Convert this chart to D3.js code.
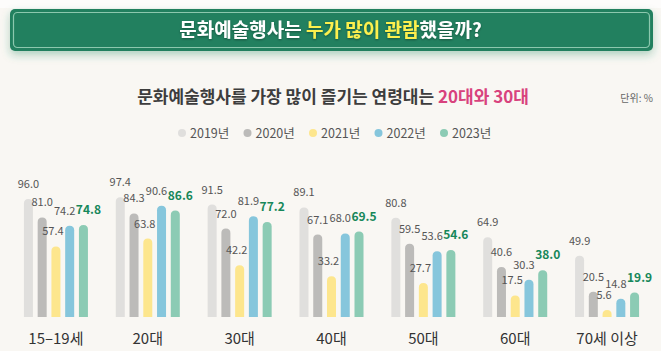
<!DOCTYPE html>
<html>
<head>
<meta charset="utf-8">
<script src="https://cdn.jsdelivr.net/npm/d3@7"></script>
<style>
  body { margin: 0; background: #f9f7f3; }
  svg { display: block; font-family: "Noto Sans CJK KR", "Noto Sans", sans-serif; }
</style>
</head>
<body>
<div id="chart"></div>
<script>
const categories = ['15~19세', '20대', '30대', '40대', '50대', '60대', '70세 이상'];
const years = ['2019년', '2020년', '2021년', '2022년', '2023년'];
const v2019 = [96.0, 97.4, 91.5, 89.1, 80.8, 64.9, 49.9];
const v2020 = [81.0, 84.3, 72.0, 67.1, 59.5, 40.6, 20.5];
const v2021 = [57.4, 63.8, 42.2, 33.2, 27.7, 17.5, 5.6];
const v2022 = [74.2, 90.6, 81.9, 68.0, 53.6, 30.3, 14.8];
const v2023 = [74.8, 86.6, 77.2, 69.5, 54.6, 38.0, 19.9];
const series = [v2019, v2020, v2021, v2022, v2023];

const colors = ['#e0dfdd', '#bcbbb9', '#fde68d', '#86c6dc', '#8ccbb4'];
const labelShift = [0, 0, -3, -5, 5];

const width = 661, height = 351;
const baseY = 317;

const svg = d3.select('#chart').append('svg')
  .attr('width', width)
  .attr('height', height);

const defs = svg.append('defs');
const glow = defs.append('filter').attr('id', 'glow')
  .attr('x', '-5%').attr('y', '-40%').attr('width', '110%').attr('height', '200%');
glow.append('feDropShadow')
  .attr('dx', 0).attr('dy', 4).attr('stdDeviation', 4)
  .attr('flood-color', '#2f8a63').attr('flood-opacity', 0.35);
const tshadow = defs.append('filter').attr('id', 'tshadow');
tshadow.append('feDropShadow')
  .attr('dx', 0).attr('dy', 1).attr('stdDeviation', 1)
  .attr('flood-color', '#000').attr('flood-opacity', 0.35);

// background
svg.append('rect').attr('width', width).attr('height', height).attr('fill', '#f9f7f3');
svg.append('rect').attr('width', width).attr('height', 8).attr('fill', '#fdfcfb');

// title banner
svg.append('rect')
  .attr('x', 10).attr('y', 9).attr('width', 643).attr('height', 42)
  .attr('rx', 5).attr('fill', '#20805f')
  .attr('filter', 'url(#glow)');
svg.append('rect')
  .attr('x', 13.5).attr('y', 12.5).attr('width', 636).attr('height', 35)
  .attr('rx', 4).attr('fill', 'none')
  .attr('stroke', '#8cc8ae').attr('stroke-width', 1.2);

const title = svg.append('text')
  .attr('x', width / 2).attr('y', 37)
  .attr('text-anchor', 'middle')
  .attr('font-size', 19).attr('font-weight', 'bold')
  .attr('fill', '#fff')
  .attr('filter', 'url(#tshadow)');
title.append('tspan').text('문화예술행사는 ');
title.append('tspan').attr('fill', '#fdf04e').text('누가 많이 관람');
title.append('tspan').text('했을까?');

// subtitle
const sub = svg.append('text')
  .attr('x', 333).attr('y', 103)
  .attr('text-anchor', 'middle')
  .attr('font-size', 17).attr('font-weight', 'bold')
  .attr('fill', '#3d3d3d');
sub.append('tspan').text('문화예술행사를 가장 많이 즐기는 연령대는 ');
sub.append('tspan').attr('fill', '#d8427d').text('20대와 30대');

svg.append('text')
  .attr('x', 653).attr('y', 102)
  .attr('text-anchor', 'end')
  .attr('font-size', 10).attr('fill', '#666')
  .text('단위: %');

// legend
const legend = svg.append('g')
  .selectAll('g')
  .data(years)
  .join('g')
  .attr('transform', (d, i) => 'translate(' + (182 + i * 65.5) + ',133)');
legend.append('circle').attr('r', 4).attr('fill', (d, i) => colors[i]);
legend.append('text')
  .attr('x', 8).attr('y', 4.5)
  .attr('font-size', 12.5).attr('fill', '#555')
  .text((d) => d);

// scales
const x0 = d3.scaleBand()
  .domain(categories)
  .range([10, 653])
  .paddingInner(0.303)
  .paddingOuter(0.1515);
const x1 = d3.scaleBand()
  .domain(years)
  .range([0, x0.bandwidth()])
  .paddingInner(0.345);
const y = d3.scaleLinear().domain([0, 100]).range([baseY, baseY - 122.9]);

function barPath(x, top, w, r) {
  const h = baseY - top;
  const rr = Math.min(r, h, w / 2);
  return 'M' + x + ',' + baseY +
    'V' + (top + rr) +
    'Q' + x + ',' + top + ' ' + (x + rr) + ',' + top +
    'H' + (x + w - rr) +
    'Q' + (x + w) + ',' + top + ' ' + (x + w) + ',' + (top + rr) +
    'V' + baseY + 'Z';
}

const rows = [];
categories.forEach((c, ci) => {
  years.forEach((yr, si) => {
    rows.push({ cat: c, year: yr, si: si, value: series[si][ci] });
  });
});

const groups = svg.append('g');
groups.selectAll('path.bar')
  .data(rows)
  .join('path')
  .attr('class', 'bar')
  .attr('fill', (d) => colors[d.si])
  .attr('d', (d) => barPath(x0(d.cat) + x1(d.year), y(d.value), x1.bandwidth(), 4.5));

groups.selectAll('text.val')
  .data(rows)
  .join('text')
  .attr('class', 'val')
  .attr('x', (d) => x0(d.cat) + x1(d.year) + x1.bandwidth() / 2 + labelShift[d.si])
  .attr('y', (d) => y(d.value) - 11)
  .attr('text-anchor', 'middle')
  .attr('font-size', (d) => (d.si === 4 ? 12 : 11))
  .attr('font-weight', (d) => (d.si === 4 ? 'bold' : 400))
  .attr('fill', (d) => (d.si === 4 ? '#17875a' : '#555'))
  .text((d) => d.value.toFixed(1));

// category labels
svg.append('g')
  .selectAll('text')
  .data(categories)
  .join('text')
  .attr('x', (d) => x0(d) + x0.bandwidth() / 2)
  .attr('y', 344)
  .attr('text-anchor', 'middle')
  .attr('font-size', 15)
  .attr('fill', '#333')
  .text((d) => d.replace('~', '–'));
</script>
</body>
</html>
